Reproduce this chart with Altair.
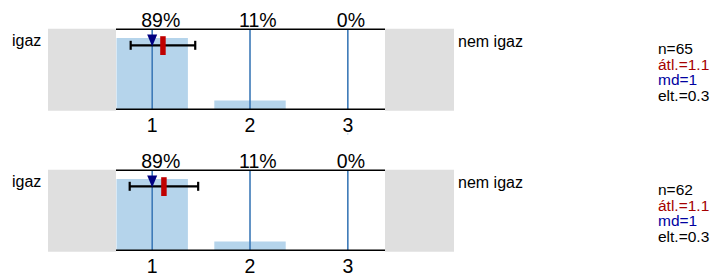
import altair as alt
import pandas as pd

# ---- data ----
categories = [1, 2, 3]
pct_top = [89, 11, 0]
pct_bottom = [89, 11, 0]
n_vals = [65, 62]
means = [1.11, 1.12]
sds = [0.33, 0.35]
medians = [1, 1]
mean_labels = ["1.1", "1.1"]
median_labels = ["1", "1"]
sd_labels = ["0.3", "0.3"]
left_label = "igaz"
right_label = "nem igaz"

FONT = "Liberation Sans"
XS = alt.Scale(domain=[0.63, 3.38], range=[108, 377])
YS = alt.Scale(domain=[0, 100], range=[101.3, 21.3])
BAR_HALF = 0.365
GRAY = "#dfdfdf"
BAR = "#b5d4eb"
LINE = "#3d7ab8"
RED = "#c00000"
NAVY = "#000080"
one = pd.DataFrame({"d": [0]})


def panel(pcts, n, mean, sd, median, mean_lab, med_lab, sd_lab):
    bars = pd.DataFrame({
        "cat": categories,
        "pct": pcts,
        "lo": [c - BAR_HALF for c in categories],
        "hi": [c + BAR_HALF for c in categories],
        "label": [f"{p}%" for p in pcts],
        "tick": [str(c) for c in categories],
    })
    stat = pd.DataFrame({"mean": [mean], "lo": [mean - sd], "hi": [mean + sd], "median": [median]})
    ends = pd.DataFrame({"v": [mean - sd, mean + sd]})

    layers = []
    # gray side boxes
    for x0, x1 in [(40, 108), (377, 446)]:
        layers.append(alt.Chart(one).mark_rect(color=GRAY).encode(
            x=alt.value(x0), x2=alt.value(x1), y=alt.value(20.7), y2=alt.value(102.7)))
    # white plot area
    layers.append(alt.Chart(one).mark_rect(color="white").encode(
        x=alt.value(108), x2=alt.value(377), y=alt.value(21.3), y2=alt.value(101.3)))
    # bars
    layers.append(alt.Chart(bars).mark_rect(color=BAR).encode(
        x=alt.X("lo:Q", scale=XS, axis=None), x2="hi:Q",
        y=alt.Y("pct:Q", scale=YS, axis=None), y2=alt.datum(0)))
    # vertical category lines
    layers.append(alt.Chart(bars).mark_rule(color=LINE, strokeWidth=1.6).encode(
        x=alt.X("cat:Q", scale=XS, axis=None),
        y=alt.datum(0, scale=YS), y2=alt.datum(100)))
    # horizontal black frame lines
    for v in [0, 100]:
        layers.append(alt.Chart(one).mark_rule(color="black", strokeWidth=1.6).encode(
            x=alt.value(108), x2=alt.value(377), y=alt.datum(v, scale=YS)))
    # error bar
    layers.append(alt.Chart(stat).mark_rule(color="black", strokeWidth=2.2).encode(
        x=alt.X("lo:Q", scale=XS, axis=None), x2="hi:Q", y=alt.value(37.3)))
    layers.append(alt.Chart(ends).mark_rule(color="black", strokeWidth=2.2).encode(
        x=alt.X("v:Q", scale=XS, axis=None), y=alt.value(32.8), y2=alt.value(41.8)))
    # mean marker
    layers.append(alt.Chart(stat).mark_rule(color=RED, strokeWidth=5.5, strokeCap="butt").encode(
        x=alt.X("mean:Q", scale=XS, axis=None), y=alt.value(28.2), y2=alt.value(47)))
    # median triangle
    layers.append(alt.Chart(stat).mark_point(
        shape="M-1,-1.2L1,-1.2L0,1.2Z", filled=True, color=NAVY, opacity=1, size=100, strokeWidth=0).encode(
        x=alt.X("median:Q", scale=XS, axis=None), y=alt.value(32.4)))
    # percent labels
    layers.append(alt.Chart(bars).mark_text(font=FONT, fontSize=19.5, baseline="alphabetic", align="left",
                                            dx=-11, color="black").encode(
        x=alt.X("cat:Q", scale=XS, axis=None), y=alt.value(19.2), text="label:N"))
    # tick labels
    layers.append(alt.Chart(bars).mark_text(font=FONT, fontSize=19.5, baseline="alphabetic", color="black").encode(
        x=alt.X("cat:Q", scale=XS, axis=None), y=alt.value(123.8), text="tick:N"))
    # side labels
    layers.append(alt.Chart(one).mark_text(font=FONT, fontSize=16, align="left", baseline="alphabetic").encode(
        x=alt.value(4), y=alt.value(37.8), text=alt.value(left_label)))
    layers.append(alt.Chart(one).mark_text(font=FONT, fontSize=16, align="left", baseline="alphabetic").encode(
        x=alt.value(450), y=alt.value(38.5), text=alt.value(right_label)))
    # stats
    lines = [(f"n={n}", "black"), (f"átl.={mean_lab}", "#a50000"),
             (f"md={med_lab}", "#0000a0"), (f"elt.={sd_lab}", "black")]
    for i, (t, c) in enumerate(lines):
        layers.append(alt.Chart(one).mark_text(font=FONT, fontSize=15.5, align="left", baseline="alphabetic", color=c).encode(
            x=alt.value(650), y=alt.value(45.8 + 15.7 * i), text=alt.value(t)))
    return alt.layer(*layers).properties(width=710, height=127)


p1 = panel(pct_top, n_vals[0], means[0], sds[0], medians[0], mean_labels[0], median_labels[0], sd_labels[0])
# faint connector line below the "3" of the first panel
p1 = alt.layer(p1, alt.Chart(pd.DataFrame({"cat": [categories[-1]]})).mark_rule(color=BAR, strokeWidth=1).encode(
    x=alt.X("cat:Q", scale=XS, axis=None), y=alt.value(125), y2=alt.value(127))).properties(width=710, height=127)
p2 = panel(pct_bottom, n_vals[1], means[1], sds[1], medians[1], mean_labels[1], median_labels[1], sd_labels[1])

chart = alt.vconcat(p1, p2, spacing=14, bounds="flush").properties(padding=0).configure_view(stroke=None)
chart.save("out.html", embed_options={"renderer": "svg", "actions": False})
